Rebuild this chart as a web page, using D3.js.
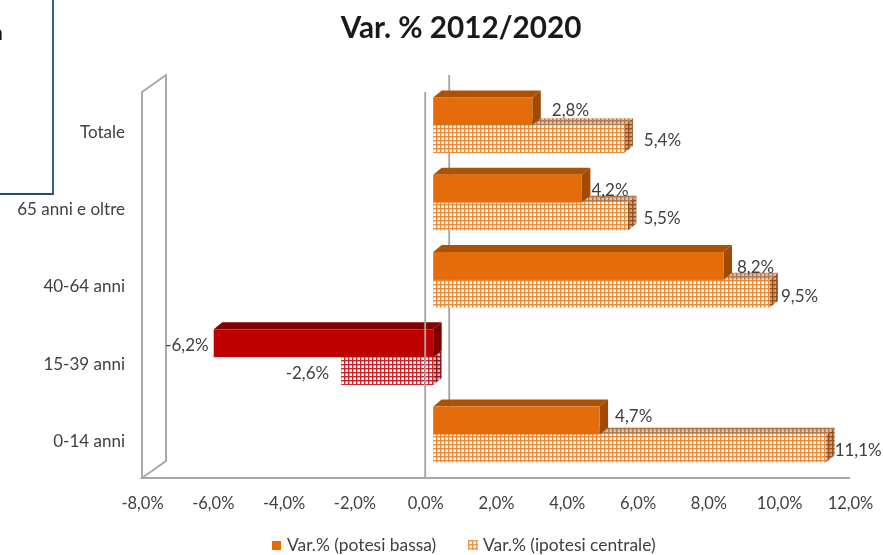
<!DOCTYPE html>
<html><head><meta charset="utf-8">
<script src="https://cdn.jsdelivr.net/npm/d3@7"></script>
<style>
html,body{margin:0;padding:0;background:#fff;overflow:hidden}
svg{display:block;filter:blur(.55px)}
text{font-family:Lato,"Open Sans",sans-serif;fill:#404040}
</style></head><body><svg id="c" width="883" height="555"></svg>
<script>
const categories=["Totale","65 anni e oltre","40-64 anni","15-39 anni","0-14 anni"];
const bassa=[2.8,4.2,8.2,-6.2,4.7];
const centrale=[5.4,5.5,9.5,-2.6,11.1];
const xTicks=[-8,-6,-4,-2,0,2,4,6,8,10,12];
const seriesNames=["Var.% (potesi bassa)","Var.% (ipotesi centrale)"];
// manual label nudges (dx, dy) as in the picture
const nudgeB=[[11,0],[1,2],[5,2],[-5,3],[7,-3]];
const nudgeC=[[11,1],[7,2],[3,2],[-12,2],[0,2]];

const svg=d3.select("#c");
const x=d3.scaleLinear().domain([-8,12]).range([142,850]);
const y=d3.scaleBand().domain(categories).range([86.6,473.1]).paddingInner(.28).paddingOuter(.14);
const depth={x:24,y:17}, barOff={x:8,y:0}, bd={x:8.5,y:7};
const fmt=d3.formatLocale({decimal:",",thousands:".",grouping:[3],currency:["","€"],minus:"-"}).format(".1f");
const pct=v=>fmt(v)+"%";

// patterns
const defs=svg.append("defs");
function pat(id,bg,line){
  const p=defs.append("pattern").attr("id",id).attr("width",4).attr("height",4).attr("patternUnits","userSpaceOnUse");
  p.append("rect").attr("width",4).attr("height",4).attr("fill",bg);
  p.append("rect").attr("width",4).attr("height",1.4).attr("fill",line);
  p.append("rect").attr("width",1.4).attr("height",4).attr("fill",line);
}
pat("oF","#fff","#ec8a3a");pat("oT","#e0c0a8","#b07a50");pat("oS","#d0a280","#96501c");
pat("rF","#fff","#c9242c");pat("rS","#e8b0b0","#8a1a1a");pat("lg","#fff","#f0944a");

// Title
svg.append("text").attr("x",461).attr("y",38).attr("text-anchor","middle")
  .style("font-size","29.7px").style("font-weight",700).style("fill","#1a1a1a").text("Var. % 2012/2020");

// corner box
svg.append("path").attr("d","M0,194H53V0").attr("fill","none").attr("stroke","#1f4e79").attr("stroke-width",1.8);
svg.append("text").attr("x",3).attr("y",40).attr("text-anchor","end").style("font-size","22px").style("fill","#111").text("n");

// walls
const fy=478, ty=92, gc="#a6a6a6";
const wall=svg.append("g").attr("fill","none").attr("stroke",gc).attr("stroke-width",1.9);
wall.append("path").attr("d",`M${x(-8)},${fy}V${ty}L${x(-8)+depth.x},${ty-depth.y}V${fy-depth.y}L${x(-8)},${fy}H${x(12)}`);
wall.append("path").attr("d",`M${x(0)+depth.x},${ty-depth.y}V${fy-depth.y}`);

// bars
const h=y.bandwidth()/2;
function bar(g,v,yTop,front,top,side){
  const x0=x(0)+barOff.x, x1=x(v)+barOff.x, a=Math.min(x0,x1), b=Math.max(x0,x1);
  g.append("path").attr("fill",top).attr("d",`M${a},${yTop}L${a+bd.x},${yTop-bd.y}H${b+bd.x}L${b},${yTop}Z`);
  g.append("path").attr("fill",side).attr("d",`M${b},${yTop}L${b+bd.x},${yTop-bd.y}V${yTop+h-bd.y}L${b},${yTop+h}Z`);
  g.append("rect").attr("x",a).attr("y",yTop).attr("width",b-a).attr("height",h).attr("fill",front);
}
const bars=svg.append("g");
categories.forEach((c,i)=>{
  const g=bars.append("g");
  const neg=bassa[i]<0;
  bar(g,centrale[i],y(c)+h,neg?"url(#rF)":"url(#oF)",neg?"url(#rS)":"url(#oT)",neg?"url(#rS)":"url(#oS)");
  bar(g,bassa[i],y(c),neg?"#c00000":"#e46c0a",neg?"#840000":"#ac5204",neg?"#7c0000":"#a04a02");
});
// front zero line over bars
svg.append("line").attr("x1",x(0)).attr("x2",x(0)).attr("y1",ty).attr("y2",fy).attr("stroke",gc).attr("stroke-width",1.9);

// data labels
function labels(vals,nudge,yc){
  svg.append("g").selectAll("text").data(vals).join("text")
   .attr("x",(v,i)=>(v<0? x(v)+barOff.x : x(v)+barOff.x+bd.x)+nudge[i][0])
   .attr("y",(v,i)=>yc(categories[i])+nudge[i][1])
   .attr("dy","0.35em").attr("text-anchor",v=>v<0?"end":"start")
   .style("font-size","17px").text(pct);
}
labels(bassa,nudgeB,c=>y(c)+h/2-1);
labels(centrale,nudgeC,c=>y(c)+h*1.5);

// axes
const ax=d3.axisBottom(x).tickValues(xTicks).tickSize(0).tickPadding(0).tickFormat(pct);
const gx=svg.append("g").attr("transform","translate(0,497)").call(ax);
gx.select(".domain").remove();
gx.selectAll("text").style("font-size","16.5px").attr("dy","0.71em").attr("y",0);

const ay=d3.axisLeft(y).tickSize(0).tickPadding(0);
const gy=svg.append("g").attr("transform","translate(125,7)").call(ay);
gy.select(".domain").remove();
gy.selectAll("text").style("font-size","17px");

// legend
const lg=svg.append("g");
lg.append("rect").attr("x",272).attr("y",541).attr("width",9).attr("height",9).attr("fill","#e46c0a");
lg.append("text").attr("x",287).attr("y",545).attr("dy","0.35em").style("font-size","17.4px").text(seriesNames[0]);
lg.append("rect").attr("x",468).attr("y",540).attr("width",10).attr("height",10).attr("fill","url(#lg)");
lg.append("text").attr("x",483).attr("y",545).attr("dy","0.35em").style("font-size","17.4px").text(seriesNames[1]);
</script></body></html>
